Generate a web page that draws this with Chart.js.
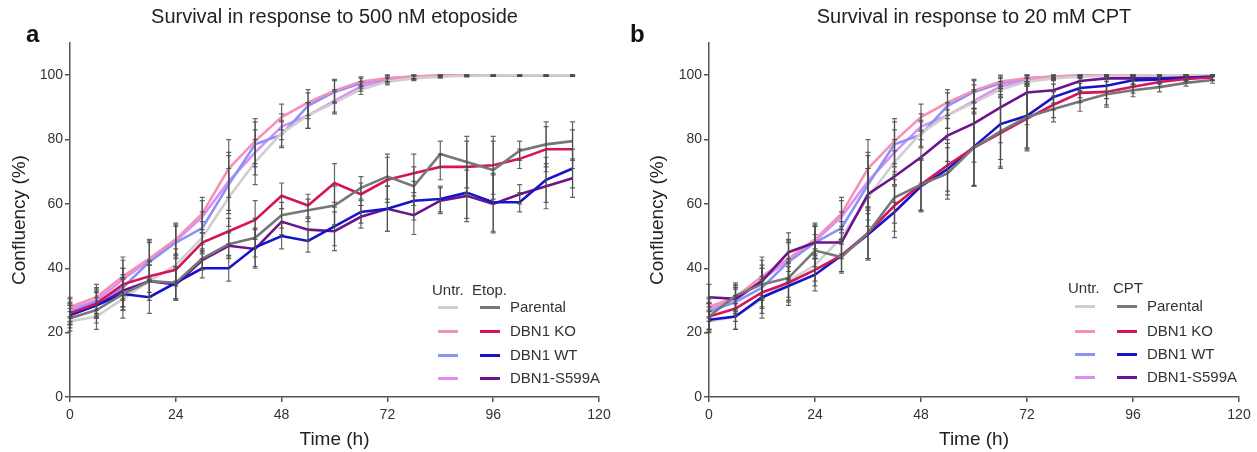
<!DOCTYPE html>
<html>
<head>
<meta charset="utf-8">
<script src="https://cdn.jsdelivr.net/npm/chart.js@4.4.1/dist/chart.umd.min.js"></script>
<style>
  body { margin: 0; background: #fff; font-family: 'Liberation Sans', Arial, sans-serif; }
  #wrap { position: relative; width: 1257px; height: 452px; overflow: hidden; }
  .panel { position: absolute; top: 0; height: 452px; }
  .tag { position: absolute; top: 20px; font-weight: bold; font-size: 24px; line-height: 28px; color: #111; }
  .lg { position: absolute; font-size: 15px; line-height: 16px; height: 16px; color: #333; white-space: nowrap; }
  .sw { position: absolute; height: 3px; }
</style>
</head>
<body>
<div id="wrap">
  <div class="panel" style="left:0;width:628px"><canvas id="chartA" width="628" height="452"></canvas></div>
  <div class="panel" style="left:628px;width:629px"><canvas id="chartB" width="629" height="452"></canvas></div>
  <div class="tag" style="left:26px">a</div>
  <div class="tag" style="left:630px">b</div>
</div>
<script>
// ─── DATA ───────────────────────────────────────────────────────
const times = [0, 6, 12, 18, 24, 30, 36, 42, 48, 54, 60, 66, 72, 78, 84, 90, 96, 102, 108, 114];
const lines = ['Parental', 'DBN1 KO', 'DBN1 WT', 'DBN1-S599A'];

// untreated controls (same in both panels)
const untrParental = [23.5, 25, 30.5, 36, 41, 49.5, 62, 73, 82, 87.5, 91.5, 95.5, 98, 99, 99.5, 99.8, 99.9, 100, 100, 100];
const untrKO       = [28, 31, 37.5, 43, 49, 57, 71, 79.5, 87, 91.5, 95.2, 98, 99, 99.6, 99.9, 100, 100, 100, 100, 100];
const untrWT       = [26.5, 29.5, 34, 42, 48, 52.5, 66, 78.5, 81.5, 90.5, 94.8, 97.5, 99, 99.6, 99.9, 100, 100, 100, 100, 100];
const untrS599A    = [27.5, 30, 36.5, 42.5, 48.5, 56, 67, 76, 84, 87.5, 92, 96.5, 98.5, 99.3, 99.8, 100, 100, 100, 100, 100];
const untrErr      = [3, 4, 6, 6, 5, 5, 9, 7, 4, 4, 3.5, 1.5, 1, 0.7, 0.4, 0.3, 0.3, 0.3, 0.3, 0.3];

// etoposide 500 nM
const etoParental = [24.5, 27, 32, 36, 35.5, 43, 47.5, 49.5, 56.5, 58, 59.5, 65, 68.5, 65.5, 75.5, 73, 70.5, 76.5, 78.5, 79.5];
const etoKO       = [26, 29, 35, 37.5, 39.5, 48, 51.5, 55, 62.5, 59.5, 66.5, 63, 67.5, 69.5, 71.5, 71.5, 72, 74, 77, 77];
const etoWT       = [25.5, 28.5, 32, 31, 35.5, 40, 40, 46.5, 50, 48.5, 53, 57.5, 58.5, 61, 61.5, 63.5, 60.5, 60.5, 67.5, 71];
const etoS599A    = [25.5, 28.5, 33, 36, 35, 42.5, 47, 46, 54.5, 52, 51.5, 56, 58.5, 56.5, 61, 62.5, 60, 63, 65.5, 68];
const etoErr      = [3, 4, 5, 5, 5, 3, 4, 6, 4, 3.5, 6, 3.5, 7, 6, 4, 8, 9, 3, 7, 6];

// CPT 20 mM
const cptParental = [25, 31.5, 35, 37, 45.5, 43.5, 51, 62, 66, 69.5, 77.5, 82.5, 87, 89.5, 91.8, 94.1, 95.3, 96.3, 97.6, 98.5];
const cptKO       = [25, 27.5, 32.5, 35.5, 39.5, 44, 51, 59.5, 66, 72, 77.5, 82, 86.5, 90.8, 94.5, 94.8, 96.4, 97.9, 98.8, 99.3];
const cptWT       = [24, 25, 31, 34.5, 38, 44, 50.5, 57.5, 65.5, 70.8, 77.8, 84.8, 87.4, 93.2, 96, 96.7, 98.4, 98.7, 99.2, 99.5];
const cptS599A    = [31, 30.5, 36, 45, 48, 48, 63, 68.5, 74.5, 81.2, 85, 90, 94.6, 95.3, 98.2, 99, 99, 99, 99.3, 99.5];
const cptErr      = [4, 4, 5, 6, 5, 5, 8, 8, 8, 8, 12, 11, 10, 4, 3, 4, 2, 1.5, 1, 1];

const xTicks = [0, 24, 48, 72, 96, 120];
const yTicks = [0, 20, 40, 60, 80, 100];

const untrColors = ['#cfcfcf', '#f590b9', '#8a93f5', '#dc8cf3'];
const treatColors = ['#777777', '#d5145a', '#1414c8', '#6c148e'];

// ─── HELPERS ────────────────────────────────────────────────────
const FONT = "'Liberation Sans', Arial, sans-serif";
const AXIS = '#555';

function pts(vals) {
  return vals.map((v, i) => ({ x: times[i], y: v }));
}

function series(label, vals, err, color) {
  return {
    label, data: pts(vals), err,
    borderColor: color, backgroundColor: color,
    borderWidth: 2.6, pointRadius: 0, tension: 0,
  };
}

// grey SD bars with caps, drawn on top of the lines
const errorBars = {
  id: 'errorBars',
  afterDatasetsDraw(chart) {
    const { ctx, scales: { x, y } } = chart;
    ctx.save();
    ctx.strokeStyle = 'rgba(75, 75, 75, 0.85)';
    ctx.lineWidth = 1.2;
    chart.data.datasets.forEach(ds => {
      ds.data.forEach((p, i) => {
        const e = ds.err[i];
        const px = x.getPixelForValue(p.x);
        const top = y.getPixelForValue(Math.min(100, p.y + e));
        const bot = y.getPixelForValue(p.y - e);
        ctx.beginPath();
        ctx.moveTo(px, top); ctx.lineTo(px, bot);
        ctx.moveTo(px - 2.5, top); ctx.lineTo(px + 2.5, top);
        ctx.moveTo(px - 2.5, bot); ctx.lineTo(px + 2.5, bot);
        ctx.stroke();
      });
    });
    ctx.restore();
  },
};

function makeChart(id, title, treated, treatErr, yWidth, yTitlePad, padRight) {
  const datasets = [
    ...treated.map((v, i) => series(lines[i], v, treatErr, treatColors[i])),
    series('Untr. ' + lines[0], untrParental, untrErr, untrColors[0]),
    series('Untr. ' + lines[1], untrKO, untrErr, untrColors[1]),
    series('Untr. ' + lines[2], untrWT, untrErr, untrColors[2]),
    series('Untr. ' + lines[3], untrS599A, untrErr, untrColors[3]),
  ];
  const axisBase = {
    grid: { display: true, drawOnChartArea: false, drawTicks: true, tickLength: 5, color: AXIS, lineWidth: 1.5 },
    border: { display: true, color: AXIS, width: 1.5 },
  };
  return new Chart(document.getElementById(id), {
    type: 'line',
    data: { datasets },
    options: {
      responsive: false,
      animation: false,
      layout: { padding: { left: 0, right: padRight, top: 0, bottom: 0 } },
      plugins: {
        legend: { display: false },
        tooltip: { enabled: false },
        title: {
          display: true, text: title, fullSize: false, color: '#222',
          font: { family: FONT, size: 20, weight: 'normal' },
          padding: { top: 5, bottom: 14 },
        },
      },
      scales: {
        x: {
          ...axisBase,
          type: 'linear', min: 0, max: 120,
          afterBuildTicks: s => { s.ticks = xTicks.map(v => ({ value: v })); },
          afterFit: s => { s.height = 55; },
          ticks: { color: '#333', padding: 5, font: { family: FONT, size: 14 } },
          title: { display: true, text: 'Time (h)', color: '#222', font: { family: FONT, size: 19 }, padding: { top: 0, bottom: 1 } },
        },
        y: {
          ...axisBase,
          type: 'linear', min: 0, max: 110,
          afterBuildTicks: s => { s.ticks = yTicks.map(v => ({ value: v })); },
          afterFit: s => { s.width = yWidth; },
          ticks: { color: '#333', padding: 2, font: { family: FONT, size: 14 } },
          title: { display: true, text: 'Confluency (%)', color: '#222', font: { family: FONT, size: 19 }, padding: { top: yTitlePad, bottom: 0 } },
        },
      },
    },
    plugins: [errorBars],
  });
}

function addLegend(header, hx, tx, ux, sx, lx, rowsY) {
  const wrap = document.getElementById('wrap');
  const add = (cls, css, text) => {
    const d = document.createElement('div');
    d.className = cls;
    d.style.cssText = css;
    if (text) d.textContent = text;
    wrap.appendChild(d);
  };
  add('lg', `left:${hx}px;top:${rowsY[0] - 8}px`, 'Untr.');
  add('lg', `left:${tx}px;top:${rowsY[0] - 8}px`, header);
  lines.forEach((name, i) => {
    const cy = rowsY[i + 1];
    add('sw', `left:${ux}px;width:20px;top:${cy - 1.5}px;background:${untrColors[i]}`);
    add('sw', `left:${sx}px;width:20px;top:${cy - 1.5}px;background:${treatColors[i]}`);
    add('lg', `left:${lx}px;top:${cy - 8}px`, name);
  });
}

makeChart('chartA', 'Survival in response to 500 nM etoposide',
  [etoParental, etoKO, etoWT, etoS599A], etoErr, 70, 8, 29);
makeChart('chartB', 'Survival in response to 20 mM CPT',
  [cptParental, cptKO, cptWT, cptS599A], cptErr, 81, 18, 18);

addLegend('Etop.', 432, 472, 438, 480, 510, [290, 307, 331, 355, 378]);
addLegend('CPT', 1068, 1113, 1075, 1117, 1147, [288, 306, 331, 354, 377]);
</script>
</body>
</html>
